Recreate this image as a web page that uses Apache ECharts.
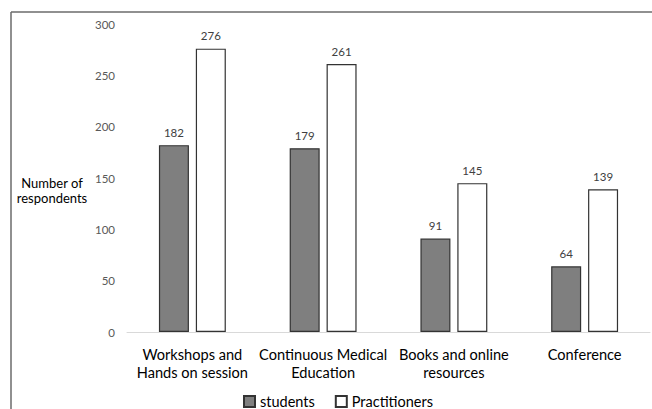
<!DOCTYPE html>
<html>
<head>
<meta charset="utf-8">
<script src="https://cdn.jsdelivr.net/npm/echarts@6/dist/echarts.min.js"></script>
<style>
  html, body { margin: 0; padding: 0; background: #fff; }
  #chart { width: 652px; height: 409px; }
</style>
</head>
<body>
<div id="chart"></div>
<script>
// categories and values
const categories = [
  'Workshops and\nHands on session',
  'Continuous Medical\nEducation',
  'Books and online\nresources',
  'Conference'
];
const students = [182, 179, 91, 64];
const practitioners = [276, 261, 145, 139];
const yTicks = [0, 50, 100, 150, 200, 250, 300];

const FONT = 'Lato, "Open Sans", sans-serif';

const chart = echarts.init(document.getElementById('chart'), null, { renderer: 'svg' });

const labelStyle = {
  show: true,
  position: 'top',
  distance: 7,
  color: '#404040',
  fontSize: 11.5,
  fontFamily: FONT
};

chart.setOption({
  animation: false,
  grid: { left: 127, right: 2, top: 24, bottom: 77 },
  // outer frame (only left and top edges are visible in the crop)
  graphic: [
    { type: 'line', shape: { x1: 11, y1: 12, x2: 652, y2: 12 },
      style: { stroke: '#6b6b6b', lineWidth: 1.5 } },
    { type: 'line', shape: { x1: 11, y1: 12, x2: 11, y2: 409 },
      style: { stroke: '#6b6b6b', lineWidth: 1.5 } },
    { type: 'text', x: 52, y: 175,
      style: { text: 'Number of\nrespondents', fill: '#000', font: '13px ' + FONT,
               align: 'center', lineHeight: 15.5 } }
  ],
  legend: {
    top: 389,
    left: 238,
    itemWidth: 11,
    itemHeight: 11,
    itemGap: 20,
    icon: 'rect',
    textStyle: { fontSize: 14.5, color: '#000', fontFamily: FONT },
    data: ['students', 'Practitioners']
  },
  xAxis: {
    type: 'category',
    data: categories,
    axisLine: { lineStyle: { color: '#d9d9d9', width: 1 } },
    axisTick: { show: false },
    axisLabel: { color: '#000', fontSize: 14.6, fontFamily: FONT, lineHeight: 18, margin: 13, interval: 0 }
  },
  yAxis: {
    type: 'value',
    min: yTicks[0],
    max: yTicks[yTicks.length - 1],
    interval: 50,
    splitLine: { show: false },
    axisLine: { show: false },
    axisTick: { show: false },
    axisLabel: { color: '#595959', fontSize: 11.5, fontFamily: FONT, margin: 12 }
  },
  series: [
    {
      name: 'students',
      type: 'bar',
      data: students,
      barWidth: 30,
      barGap: '23%',
      itemStyle: { color: '#7f7f7f', borderColor: '#333', borderWidth: 1.2 },
      label: labelStyle
    },
    {
      name: 'Practitioners',
      type: 'bar',
      data: practitioners,
      barWidth: 30,
      itemStyle: { color: '#fff', borderColor: '#333', borderWidth: 1.2 },
      label: labelStyle
    }
  ]
});
</script>
</body>
</html>
